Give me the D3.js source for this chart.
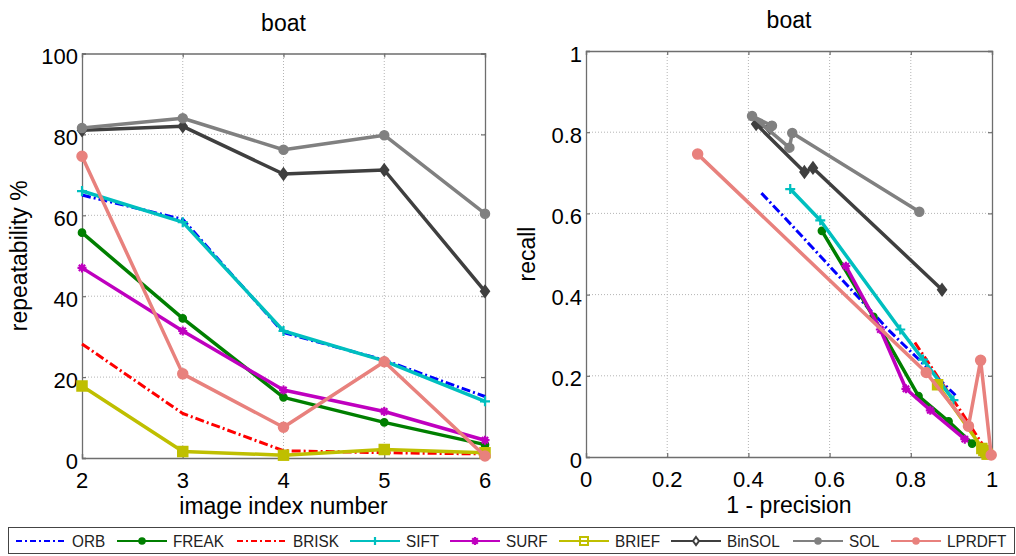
<!DOCTYPE html>
<html>
<head>
<meta charset="utf-8">
<script src="https://cdn.jsdelivr.net/npm/d3@7"></script>
<style>
  html, body { margin: 0; padding: 0; background: #fff; }
  svg { display: block; font-family: "Liberation Sans", Arial, Helvetica, sans-serif; }
</style>
</head>
<body>
<svg id="chart" width="1016" height="556"></svg>
<script>
// Image pairs of the "boat" sequence
const imageIndex = [2, 3, 4, 5, 6];
const methods = ["ORB", "FREAK", "BRISK", "SIFT", "SURF", "BRIEF", "BinSOL", "SOL", "LPRDFT"];

// Repeatability (%) per image index
const repORB    = [65.0, 59.0, 31.0, 24.2, 15.2];
const repFREAK  = [55.7, 34.5, 15.0, 8.8, 3.3];
const repBRISK  = [28.2, 11.0, 1.8, 1.3, 1.0];
const repSIFT   = [66.0, 58.3, 31.4, 24.0, 14.0];
const repSURF   = [47.0, 31.4, 16.8, 11.5, 4.4];
const repBRIEF  = [17.8, 1.6, 0.7, 2.1, 1.3];
const repBinSOL = [81.0, 82.0, 70.2, 71.2, 41.2];
const repSOL    = [81.6, 84.0, 76.2, 79.8, 60.4];
const repLPRDFT = [74.6, 20.8, 7.6, 23.8, 0.5];

// Recall per image index
const recORB    = [0.650, 0.590, 0.310, 0.242, 0.152];
const recFREAK  = [0.557, 0.345, 0.150, 0.088, 0.033];
const recBRISK  = [0.282, 0.110, 0.018, 0.013, 0.010];
const recSIFT   = [0.660, 0.583, 0.314, 0.240, 0.140];
const recSURF   = [0.470, 0.314, 0.168, 0.115, 0.044];
const recBRIEF  = [0.178, 0.016, 0.007, 0.021, 0.013];
const recBinSOL = [0.810, 0.820, 0.702, 0.712, 0.412];
const recSOL    = [0.816, 0.840, 0.762, 0.798, 0.604];
const recLPRDFT = [0.746, 0.208, 0.076, 0.238, 0.005];

// 1 - precision per image index
const fpORB    = [0.432, 0.489, 0.748, 0.818, 0.910];
const fpFREAK  = [0.581, 0.708, 0.819, 0.893, 0.951];
const fpBRISK  = [0.810, 0.925, 0.985, 0.990, 0.993];
const fpSIFT   = [0.503, 0.577, 0.774, 0.830, 0.905];
const fpSURF   = [0.640, 0.725, 0.788, 0.848, 0.933];
const fpBRIEF  = [0.866, 0.980, 0.988, 0.975, 0.985];
const fpBinSOL = [0.453, 0.419, 0.538, 0.559, 0.877];
const fpSOL    = [0.458, 0.409, 0.501, 0.508, 0.821];
const fpLPRDFT = [0.275, 0.838, 0.942, 0.972, 0.998];

// Tick labels
const repTicks = [0, 20, 40, 60, 80, 100];
const idxTicks = [2, 3, 4, 5, 6];
const prTicks = [0, 0.2, 0.4, 0.6, 0.8, 1];

const repeatability = [repORB, repFREAK, repBRISK, repSIFT, repSURF, repBRIEF, repBinSOL, repSOL, repLPRDFT];
const recall = [recORB, recFREAK, recBRISK, recSIFT, recSURF, recBRIEF, recBinSOL, recSOL, recLPRDFT];
const oneMinusPrecision = [fpORB, fpFREAK, fpBRISK, fpSIFT, fpSURF, fpBRIEF, fpBinSOL, fpSOL, fpLPRDFT];

// Appearance of each method
const styles = {
  ORB:    { color: "#0000ff", dash: "9,3,2,3", marker: null,      width: 3 },
  FREAK:  { color: "#007f00", dash: null,      marker: "circle",  size: 3.6, width: 3.5 },
  BRISK:  { color: "#ff0000", dash: "9,3,2,3", marker: null,      width: 3 },
  SIFT:   { color: "#00bfbf", dash: null,      marker: "plus",    size: 5, width: 3.5 },
  SURF:   { color: "#bf00bf", dash: null,      marker: "star",    size: 4.5, width: 3.5 },
  BRIEF:  { color: "#bfbf00", dash: null,      marker: "square",  size: 5, width: 3.5 },
  BinSOL: { color: "#3f3f3f", dash: null,      marker: "diamond", size: 5.5, width: 3.5 },
  SOL:    { color: "#808080", dash: null,      marker: "circle",  size: 4.5, width: 3.5 },
  LPRDFT: { color: "#e8817d", dash: null,      marker: "circle",  size: 5, width: 3.5 }
};

const svg = d3.select("#chart");
const axisColor = "#6e6e6e";
const gridColor = "#b4b4b4";

function drawMarker(g, kind, x, y, s, color, filled) {
  if (!kind) return;
  if (kind === "circle") {
    g.append("circle").attr("cx", x).attr("cy", y).attr("r", s)
      .attr("fill", filled ? color : "#fff").attr("stroke", color).attr("stroke-width", 1.5);
  } else if (kind === "square") {
    g.append("rect").attr("x", x - s).attr("y", y - s).attr("width", 2 * s).attr("height", 2 * s)
      .attr("fill", filled ? color : "none").attr("stroke", color).attr("stroke-width", filled ? 1.5 : 2);
  } else if (kind === "diamond") {
    g.append("path").attr("d", `M${x},${y - s}L${x + s * 0.75},${y}L${x},${y + s}L${x - s * 0.75},${y}Z`)
      .attr("fill", filled ? color : "#fff").attr("stroke", color).attr("stroke-width", 2);
  } else if (kind === "plus") {
    g.append("path").attr("d", `M${x - s},${y}H${x + s}M${x},${y - s}V${y + s}`)
      .attr("stroke", color).attr("stroke-width", 2.2).attr("fill", "none");
  } else if (kind === "star") {
    const d = s * 0.7;
    g.append("path")
      .attr("d", `M${x - s},${y}H${x + s}M${x},${y - s}V${y + s}M${x - d},${y - d}L${x + d},${y + d}M${x - d},${y + d}L${x + d},${y - d}`)
      .attr("stroke", color).attr("stroke-width", 2.2).attr("fill", "none");
  }
}

function panel(opts) {
  const { xScale, yScale, xTicks, yTicks, xFmt, yFmt, title, xLabel, yLabel, yLabelX, series } = opts;
  const g = svg.append("g");
  const [x0, x1] = xScale.range();
  const [y0, y1] = yScale.range(); // y0 bottom, y1 top

  // Dotted grid
  const grid = g.append("g").attr("stroke", gridColor).attr("stroke-width", 1).attr("stroke-dasharray", "1,2");
  xTicks.forEach(t => {
    const px = xScale(t);
    if (Math.abs(px - x0) > 1 && Math.abs(px - x1) > 1)
      grid.append("line").attr("x1", px).attr("x2", px).attr("y1", y0).attr("y2", y1);
  });
  yTicks.forEach(t => {
    const py = yScale(t);
    if (Math.abs(py - y0) > 1 && Math.abs(py - y1) > 1)
      grid.append("line").attr("x1", x0).attr("x2", x1).attr("y1", py).attr("y2", py);
  });

  // Axes with inward ticks on all four sides
  const tl = 4;
  g.append("g").attr("transform", `translate(0,${y0})`)
    .call(d3.axisBottom(xScale).tickValues(xTicks).tickSize(-tl).tickFormat(""));
  g.append("g").attr("transform", `translate(0,${y1})`)
    .call(d3.axisTop(xScale).tickValues(xTicks).tickSize(-tl).tickFormat(""));
  g.append("g").attr("transform", `translate(${x0},0)`)
    .call(d3.axisLeft(yScale).tickValues(yTicks).tickSize(-tl).tickFormat(""));
  g.append("g").attr("transform", `translate(${x1},0)`)
    .call(d3.axisRight(yScale).tickValues(yTicks).tickSize(-tl).tickFormat(""));
  g.selectAll(".domain").attr("stroke", axisColor).attr("stroke-width", 1.3);
  g.selectAll(".tick line").attr("stroke", axisColor).attr("stroke-width", 1.2);

  // Tick labels
  xTicks.forEach(t => {
    g.append("text").attr("x", xScale(t)).attr("y", y0 + 30)
      .attr("text-anchor", "middle").attr("font-size", 22).attr("fill", "#000").text(xFmt(t));
  });
  yTicks.forEach(t => {
    g.append("text").attr("x", x0 - 4).attr("y", yScale(t) + 10.5)
      .attr("text-anchor", "end").attr("font-size", 22).attr("fill", "#000").text(yFmt(t));
  });

  // Title and axis labels
  g.append("text").attr("x", (x0 + x1) / 2).attr("y", y1 - 23)
    .attr("text-anchor", "middle").attr("font-size", 23).attr("fill", "#000").text(title);
  g.append("text").attr("x", (x0 + x1) / 2).attr("y", y0 + 56)
    .attr("text-anchor", "middle").attr("font-size", 23).attr("fill", "#000").text(xLabel);
  g.append("text").attr("transform", `translate(${yLabelX},${(y0 + y1) / 2}) rotate(-90)`)
    .attr("text-anchor", "middle").attr("font-size", 23).attr("fill", "#000").text(yLabel);

  // Series
  const plot = g.append("g");
  series.forEach(s => {
    const st = styles[s.name];
    const line = d3.line().x(d => xScale(d[0])).y(d => yScale(d[1]));
    plot.append("path").attr("d", line(s.points))
      .attr("fill", "none").attr("stroke", st.color).attr("stroke-width", st.width)
      .attr("stroke-linejoin", "round")
      .attr("stroke-dasharray", st.dash);
    const mg = plot.append("g");
    s.points.forEach(p => drawMarker(mg, st.marker, xScale(p[0]), yScale(p[1]), st.size, st.color, true));
  });
}

// Repeatability panel
const xIdx = d3.scaleLinear().domain([2, 6]).range([82, 485]);
const yRep = d3.scaleLinear().domain([0, 100]).range([458, 53.5]);
panel({
  xScale: xIdx, yScale: yRep, xTicks: idxTicks, yTicks: repTicks,
  xFmt: d => d, yFmt: d => d,
  title: "boat", xLabel: "image index number", yLabel: "repeatability %", yLabelX: 27,
  series: methods.map((m, i) => ({ name: m, points: imageIndex.map((x, j) => [x, repeatability[i][j]]) }))
});

// Recall vs 1-precision panel
const xPr = d3.scaleLinear().domain([0, 1]).range([586, 992]);
const yRec = d3.scaleLinear().domain([0, 1]).range([457, 51]);
panel({
  xScale: xPr, yScale: yRec, xTicks: prTicks, yTicks: prTicks,
  xFmt: d => d3.format("~g")(d), yFmt: d => d3.format("~g")(d),
  title: "boat", xLabel: "1 - precision", yLabel: "recall", yLabelX: 535,
  series: methods.map((m, i) => ({ name: m, points: oneMinusPrecision[i].map((x, j) => [x, recall[i][j]]) }))
});

// Legend
const legend = svg.append("g");
legend.append("rect").attr("x", 8.5).attr("y", 527.5).attr("width", 1006).attr("height", 26)
  .attr("fill", "#fff").attr("stroke", "#444").attr("stroke-width", 1);
const legendX = [16, 117, 237, 350, 450, 559, 671, 793, 891];
const legendY = 541;
methods.forEach((m, i) => {
  const st = styles[m];
  const lx = legendX[i];
  legend.append("line").attr("x1", lx).attr("x2", lx + 50).attr("y1", legendY).attr("y2", legendY)
    .attr("stroke", st.color).attr("stroke-width", 2).attr("stroke-dasharray", st.dash ? "6,3,2,3" : null);
  const mk = legend.append("g");
  const small = st.marker === "circle" ? 3 : 4;
  const filled = st.marker === "circle" || st.marker === "star";
  drawMarker(mk, st.marker, lx + 25, legendY, small, st.color, filled);
  legend.append("text").attr("x", lx + 56).attr("y", legendY + 6.5)
    .attr("font-size", 17).attr("fill", "#222")
    .attr("transform", `translate(${lx + 56},0) scale(0.9,1) translate(${-(lx + 56)},0)`)
    .text(m);
});
</script>
</body>
</html>
